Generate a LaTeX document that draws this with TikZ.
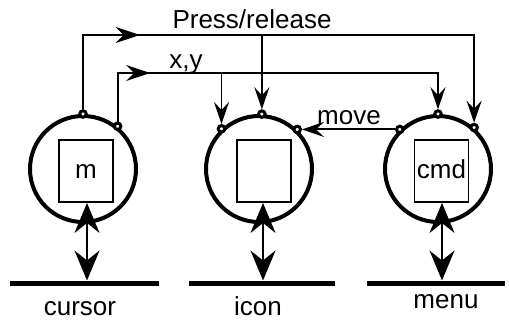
\documentclass[tikz,border=0pt]{standalone}
\usepackage{fontspec}
\setmainfont{Liberation Sans}
\usetikzlibrary{arrows.meta,decorations.markings}

\begin{document}
\begin{tikzpicture}[x=1pt,y=-1pt,
  obj/.style={circle,draw,line width=4pt,minimum size=106pt,inner sep=0pt},
  port/.style={circle,draw,fill=white,line width=3pt,minimum size=6.5pt,inner sep=0pt},
  slot/.style={draw,line width=1.9pt,minimum width=54pt,minimum height=62pt,inner sep=0pt},
  conn/.style={line width=1.9pt},
  tip/.style={-{Stealth[length=22pt,width=15pt,inset=8pt]}},
  dbl/.style={{Stealth[length=30pt,width=25pt,inset=10pt]}-{Stealth[length=30pt,width=25pt,inset=10pt]}},
  midarrow/.style={postaction={decorate,decoration={markings,
      mark=at position #1 with {\arrow{Stealth[length=24pt,width=16pt,inset=8pt]}}}}},
  ground/.style={line width=5pt},
  lbl/.style={font=\fontsize{26}{30}\selectfont,anchor=base,inner sep=0pt},
]
\useasboundingbox (0,0) rectangle (509,324);

% the three objects
\node[obj] (cur) at (83,169) {};
\node[obj] (ico) at (259,169) {};
\node[obj] (men) at (438,169) {};

\node[slot] (cbox) at (86,171) {};
\node[slot] (ibox) at (264,171) {};
\node[slot] (mbox) at (441.5,171) {};
\node[lbl] (cboxt) at (86,178) {m};
\node[lbl] (mboxt) at (441.5,178) {cmd};

% ports on the circles
\node[port] (cT) at (cur.90) {};
\node[port] (cB) at (cur.51) {};
\node[port] (iA) at (ico.133) {};
\node[port] (iT) at (ico.87) {};
\node[port] (iC) at (ico.46) {};
\node[port] (mA) at (men.134) {};
\node[port] (mT) at (men.90) {};
\node[port] (mC) at (men.49) {};

% bus levels
\coordinate (pr) at (0,35);
\coordinate (xy) at (0,73);

% press/release bus
\draw[conn,tip,midarrow=131pt] (cT.north) |- (mC |- pr) -- (mC);
\draw[conn,tip] (iT |- pr) -- (iT);

% x,y bus
\draw[conn,tip,midarrow=81pt] (cB.north) |- (mT |- xy) -- (mT);
\draw[conn,tip] (iA |- xy) -- (iA);

% move
\draw[conn,tip] (mA) -- (iC);

% ground lines
\coordinate (g1a) at (10,283);  \coordinate (g1b) at (159,283);
\coordinate (g2a) at (189,283); \coordinate (g2b) at (335,283);
\coordinate (g3a) at (367,283); \coordinate (g3b) at (505,283);
\draw[ground] (g1a) -- (g1b);
\draw[ground] (g2a) -- (g2b);
\draw[ground] (g3a) -- (g3b);

\coordinate (c1) at (87,280.5);
\coordinate (c2) at (263,280.5);
\coordinate (c3) at (442,280.5);
\draw[conn,dbl] (cbox.south -| c1) -- (c1);
\draw[conn,dbl] (ibox.south -| c2) -- (c2);
\draw[conn,dbl] (mbox.south -| c3) -- (c3);

% labels
\node[lbl] (lpr) at (252,28) {Press/release};
\node[lbl] (lxy) at (186,68) {x,y};
\node[lbl] (lmv) at (349,124) {move};
\node[lbl] (lc) at (80,315) {cursor};
\node[lbl] (li) at (258,315) {icon};
\node[lbl] (lm) at (446,308) {menu};
\end{tikzpicture}
\end{document}
